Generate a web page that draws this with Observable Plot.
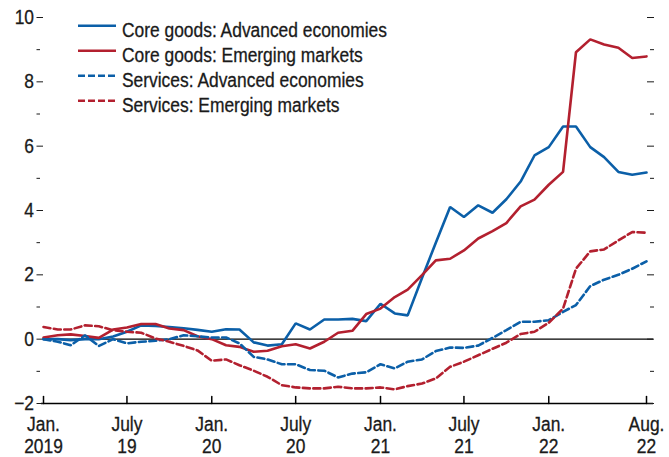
<!DOCTYPE html>
<html><head><meta charset="utf-8">
<script src="https://cdn.jsdelivr.net/npm/d3@7"></script>
<script src="https://cdn.jsdelivr.net/npm/@observablehq/plot@0.6"></script>
<style>
body{margin:0;background:#fff;}
#wrap{position:relative;width:669px;height:457px;}
#legend{position:absolute;left:0;top:0;pointer-events:none;}
#wrap text{stroke:#1a1a1a;stroke-width:0.3px;}
</style></head><body><div id="wrap"></div>
<script>
const FONT = '"Liberation Sans Narrow","Arial Narrow","Liberation Sans",Arial,sans-serif';
const SQUEEZE = 0.87;
const months = d3.utcMonth.range(new Date(Date.UTC(2019,0,1)), new Date(Date.UTC(2022,8,1)));

const seriesNames = ["Core goods: Advanced economies","Core goods: Emerging markets","Services: Advanced economies","Services: Emerging markets"];
const coreAE = [0.00,0.00,-0.03,0.00,0.00,0.08,0.23,0.43,0.41,0.38,0.34,0.29,0.23,0.31,0.30,-0.10,-0.20,-0.16,0.49,0.30,0.61,0.61,0.63,0.56,1.10,0.80,0.74,1.90,3.00,4.11,3.80,4.16,3.93,4.35,4.90,5.71,5.97,6.61,6.61,5.97,5.66,5.20,5.11,5.18];
const coreEM = [0.05,0.12,0.15,0.10,0.04,0.30,0.36,0.47,0.47,0.33,0.28,0.09,0.00,-0.19,-0.24,-0.39,-0.36,-0.22,-0.16,-0.29,-0.08,0.20,0.26,0.78,0.95,1.31,1.54,1.99,2.45,2.50,2.76,3.13,3.36,3.61,4.13,4.34,4.80,5.20,8.92,9.32,9.16,9.06,8.74,8.79];
const svcAE = [0.00,-0.08,-0.19,0.12,-0.21,0.00,-0.13,-0.08,-0.05,0.00,0.12,0.09,0.05,0.05,-0.13,-0.55,-0.63,-0.78,-0.78,-0.96,-0.98,-1.19,-1.07,-1.03,-0.78,-0.91,-0.70,-0.63,-0.37,-0.26,-0.27,-0.20,0.04,0.28,0.54,0.54,0.59,0.85,1.06,1.65,1.85,2.00,2.19,2.42];
const svcEM = [0.38,0.30,0.30,0.43,0.40,0.28,0.23,0.20,0.02,-0.08,-0.21,-0.35,-0.67,-0.63,-0.81,-0.98,-1.17,-1.43,-1.50,-1.53,-1.53,-1.48,-1.53,-1.53,-1.50,-1.56,-1.46,-1.38,-1.22,-0.86,-0.70,-0.50,-0.30,-0.11,0.16,0.23,0.51,0.95,2.19,2.73,2.79,3.07,3.33,3.31];

const majorY = [-2,0,2,4,6,8,10];
const minorY = [-1,1,3,5,7,9];
const xTickDates = [new Date(Date.UTC(2019,0,1)),new Date(Date.UTC(2019,6,1)),new Date(Date.UTC(2020,0,1)),new Date(Date.UTC(2020,6,1)),new Date(Date.UTC(2021,0,1)),new Date(Date.UTC(2021,6,1)),new Date(Date.UTC(2022,0,1)),new Date(Date.UTC(2022,7,1))];
const xTickLabels = ["Jan.\n2019","July\n19","Jan.\n20","July\n20","Jan.\n21","July\n21","Jan.\n22","Aug.\n22"];

const BLUE = "#0b5fa8", RED = "#b3202f";
const DASH = "7,3.5";
const styles = [
  {stroke: BLUE, dash: null},
  {stroke: RED, dash: null},
  {stroke: BLUE, dash: DASH},
  {stroke: RED, dash: DASH}
];
const values = [coreAE, coreEM, svcAE, svcEM];
const tables = values.map((vals, k) => months.map((m, i) => ({date: m, value: vals[i], series: seriesNames[k]})));

const tickUp = {draw(context, l) { context.moveTo(0, 0); context.lineTo(0, -l); }};
const noText = () => "";
const fmtY = d => d < 0 ? "\u2212" + (-d) : String(d);
const fmtX = d => xTickLabels[xTickDates.findIndex(t => +t === +d)];

const chart = Plot.plot({
  width: 669, height: 457,
  marginLeft: 43, marginRight: 23, marginTop: 17, marginBottom: 54,
  style: {fontFamily: FONT, fontSize: "20px", color: "#1a1a1a", background: "white", overflow: "visible"},
  x: {type: "utc", domain: [months[0], months[months.length - 1]]},
  y: {domain: [-2, 10]},
  marks: [
    Plot.ruleY([0], {stroke: "#000", strokeWidth: 1.2, insetRight: -7}),
    Plot.ruleY([-2], {stroke: "#000", strokeWidth: 1.5, insetLeft: -2, insetRight: -7}),
    Plot.axisY({ticks: majorY, tickSize: 6.5, tickPadding: 3, tickFormat: fmtY, label: null}),
    Plot.axisY({ticks: minorY, tickSize: 3.5, dx: -3, tickFormat: noText, label: null}),
    Plot.axisY({anchor: "right", ticks: majorY, tickSize: 7, tickFormat: noText, label: null}),
    Plot.axisY({anchor: "right", ticks: minorY, tickSize: 4, dx: 3, tickFormat: noText, label: null}),
    Plot.axisX({ticks: xTickDates, tickFormat: fmtX, tickSize: 0, tickPadding: 12.5, lineHeight: 1.08, label: null}),
    Plot.vector(xTickDates, {x: d => d, y: () => -2, length: 7, anchor: "start", shape: tickUp, stroke: "#000", strokeWidth: 1.5}),
    ...tables.map((t, k) => Plot.line(t, {x: "date", y: "value", stroke: styles[k].stroke, strokeWidth: 2.6, strokeDasharray: styles[k].dash, strokeLinejoin: "miter"}))
  ]
});
// condense the sans-serif text horizontally to match the narrow face of the reference
d3.select(chart).selectAll("text").each(function() {
  const t = this.getAttribute("transform");
  if (t) this.setAttribute("transform", t + ` scale(${SQUEEZE},1)`);
});
document.getElementById("wrap").appendChild(chart);

// legend overlay
const ns = "http://www.w3.org/2000/svg";
const leg = document.createElementNS(ns, "svg");
leg.setAttribute("id", "legend");
leg.setAttribute("width", 669); leg.setAttribute("height", 130);
leg.style.fontFamily = FONT; leg.style.fontSize = "20px";
seriesNames.forEach((name, k) => {
  const y = 25.7 + 25 * k;
  const ln = document.createElementNS(ns, "line");
  ln.setAttribute("x1", 78); ln.setAttribute("x2", 116); ln.setAttribute("y1", y); ln.setAttribute("y2", y);
  ln.setAttribute("stroke", styles[k].stroke); ln.setAttribute("stroke-width", 2.6);
  if (styles[k].dash) ln.setAttribute("stroke-dasharray", "7,3");
  leg.appendChild(ln);
  const tx = document.createElementNS(ns, "text");
  tx.setAttribute("transform", `translate(122,${y + 11}) scale(${SQUEEZE},1)`);
  tx.setAttribute("fill", "#1a1a1a");
  tx.textContent = name;
  leg.appendChild(tx);
});
document.getElementById("wrap").appendChild(leg);
</script></body></html>
